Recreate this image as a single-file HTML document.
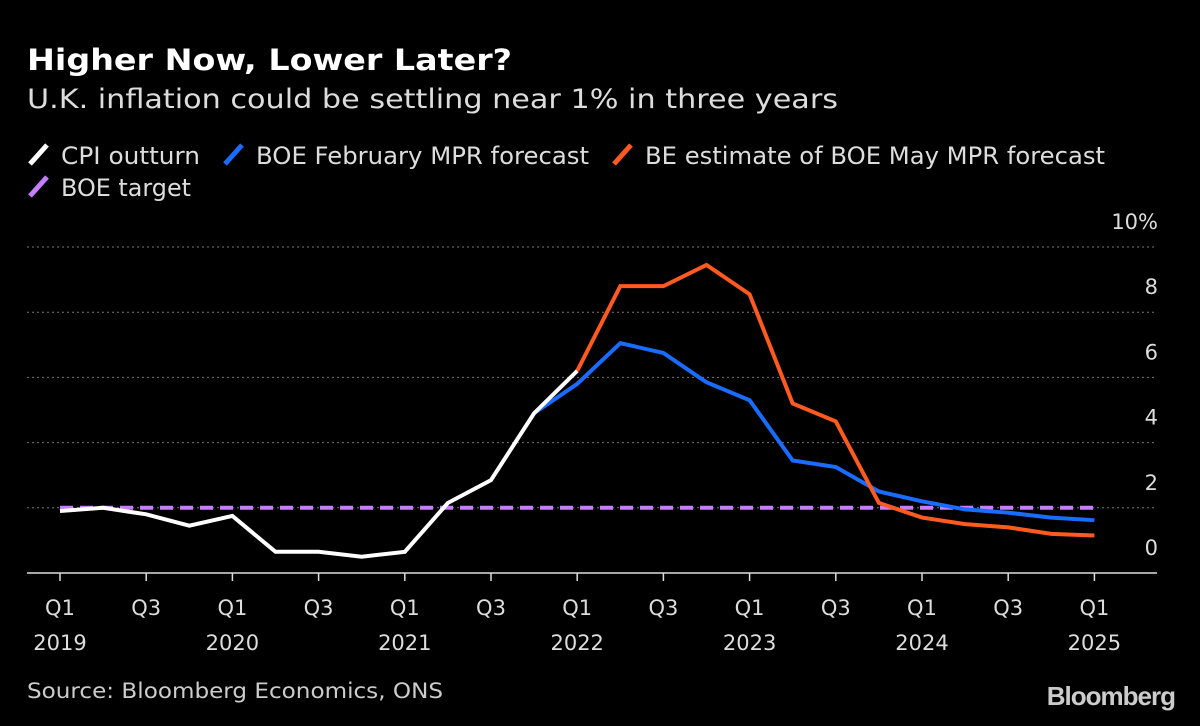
<!DOCTYPE html>
<html><head><meta charset="utf-8"><style>
body{margin:0;background:#000;width:1200px;height:726px;overflow:hidden;font-family:"DejaVu Sans","Liberation Sans",sans-serif;color:#fff}
svg{position:absolute;left:0;top:0}
</style></head><body>
<svg width="1200" height="726">
<text x="27" y="70" font-size="29" font-weight="bold" fill="#fff" textLength="485" lengthAdjust="spacingAndGlyphs">Higher Now, Lower Later?</text>
<text x="27" y="108" font-size="27" fill="#ddd" textLength="811" lengthAdjust="spacingAndGlyphs">U.K. inflation could be settling near 1% in three years</text>
<g id="legend" fill="#ddd"></g>
<g id="grid"></g><g id="xaxis"></g><g id="series"></g>
<text x="27" y="698" font-size="21" fill="#ccc" textLength="416" lengthAdjust="spacingAndGlyphs">Source: Bloomberg Economics, ONS</text>
<text x="1175" y="705" font-size="26" font-weight="bold" fill="#ccc" text-anchor="end" font-family="Liberation Sans" letter-spacing="-1">Bloomberg</text>
</svg>
<script>
const quarterLabels=["Q1","Q3","Q1","Q3","Q1","Q3","Q1","Q3","Q1","Q3","Q1","Q3","Q1"];
const yearLabels=["2019","","2020","","2021","","2022","","2023","","2024","","2025"];
const yTicks=[0,2,4,6,8,10];
const cpi=[1.9,2.0,1.8,1.45,1.75,0.65,0.65,0.5,0.65,2.15,2.85,4.9,6.2];
const boeFeb=[4.9,5.8,7.05,6.75,5.85,5.3,3.45,3.25,2.5,2.2,1.95,1.85,1.7,1.62];
const beMay=[6.2,8.8,8.8,9.45,8.55,5.2,4.65,2.15,1.7,1.5,1.4,1.2,1.15];
const target=2;
const NS="http://www.w3.org/2000/svg";
const x=q=>60+q*43.1, y=v=>573-v*32.6;
function mk(t,a,p){const e=document.createElementNS(NS,t);for(const k in a)e.setAttribute(k,a[k]);p.appendChild(e);return e;}
const grid=document.getElementById('grid'),xa=document.getElementById('xaxis'),se=document.getElementById('series'),lg=document.getElementById('legend');
yTicks.forEach(v=>{
 if(v>0){const l=mk('line',{x1:27,x2:1157,y1:y(v),y2:y(v),stroke:'#777','stroke-dasharray':'2,3'},grid);
 }
 const t=mk('text',{x:1158,y:y(v)-18,'font-size':21,fill:'#ddd','text-anchor':'end'},grid);t.textContent=v+(v===10?'%':'');
 
});
const base=mk('line',{x1:27,x2:1157,y1:573,y2:573,stroke:'#ddd','stroke-width':1.5},xa);

quarterLabels.forEach((q,i)=>{
 const xx=x(i*2);
 const tk=mk('line',{x1:xx,x2:xx,y1:573,y2:581,stroke:'#ddd','stroke-width':1.5},xa);
 
 const t=mk('text',{x:xx,y:615,'font-size':21,fill:'#ddd','text-anchor':'middle'},xa);t.textContent=q;
 
 if(yearLabels[i]){const t2=mk('text',{x:xx,y:650,'font-size':21,fill:'#ddd','text-anchor':'middle'},xa);t2.textContent=yearLabels[i];
 }
});
function line(data,start,color,name,dash){
 const pts=data.map((v,i)=>x(start+i)+','+y(v)).join(' ');
 const a={points:pts,fill:'none',stroke:color,'stroke-width':4,'stroke-linejoin':'miter'};
 if(dash)a['stroke-dasharray']=dash;
 const p=mk('polyline',a,se);
}
line([target,target],0,'#c77dff','boe-target-line','13,7');
const tl=se.lastChild;tl.setAttribute('points',x(0)+','+y(target)+' '+x(24)+','+y(target));
line(boeFeb,11,'#1a6cff','boe-february-forecast-line');
line(beMay,12,'#ff5a1f','be-may-estimate-line');
line(cpi,0,'#ffffff','cpi-outturn-line');
const leg=[["CPI outturn","#fff",27,164,139],["BOE February MPR forecast","#1a6cff",222,164,333],["BE estimate of BOE May MPR forecast","#ff5a1f",611,164,460],["BOE target","#c77dff",27,196,130]];
leg.forEach(([t,c,lx,ly,w])=>{
 const g=mk('g',{},lg);
 mk('line',{x1:lx+3,y1:ly,x2:lx+20,y2:ly-19,stroke:c,'stroke-width':5},g);
 const tx=mk('text',{x:lx+34,y:ly,'font-size':24,fill:'#ddd',textLength:w,lengthAdjust:'spacingAndGlyphs'},g);tx.textContent=t;
});
</script>
</body></html>
